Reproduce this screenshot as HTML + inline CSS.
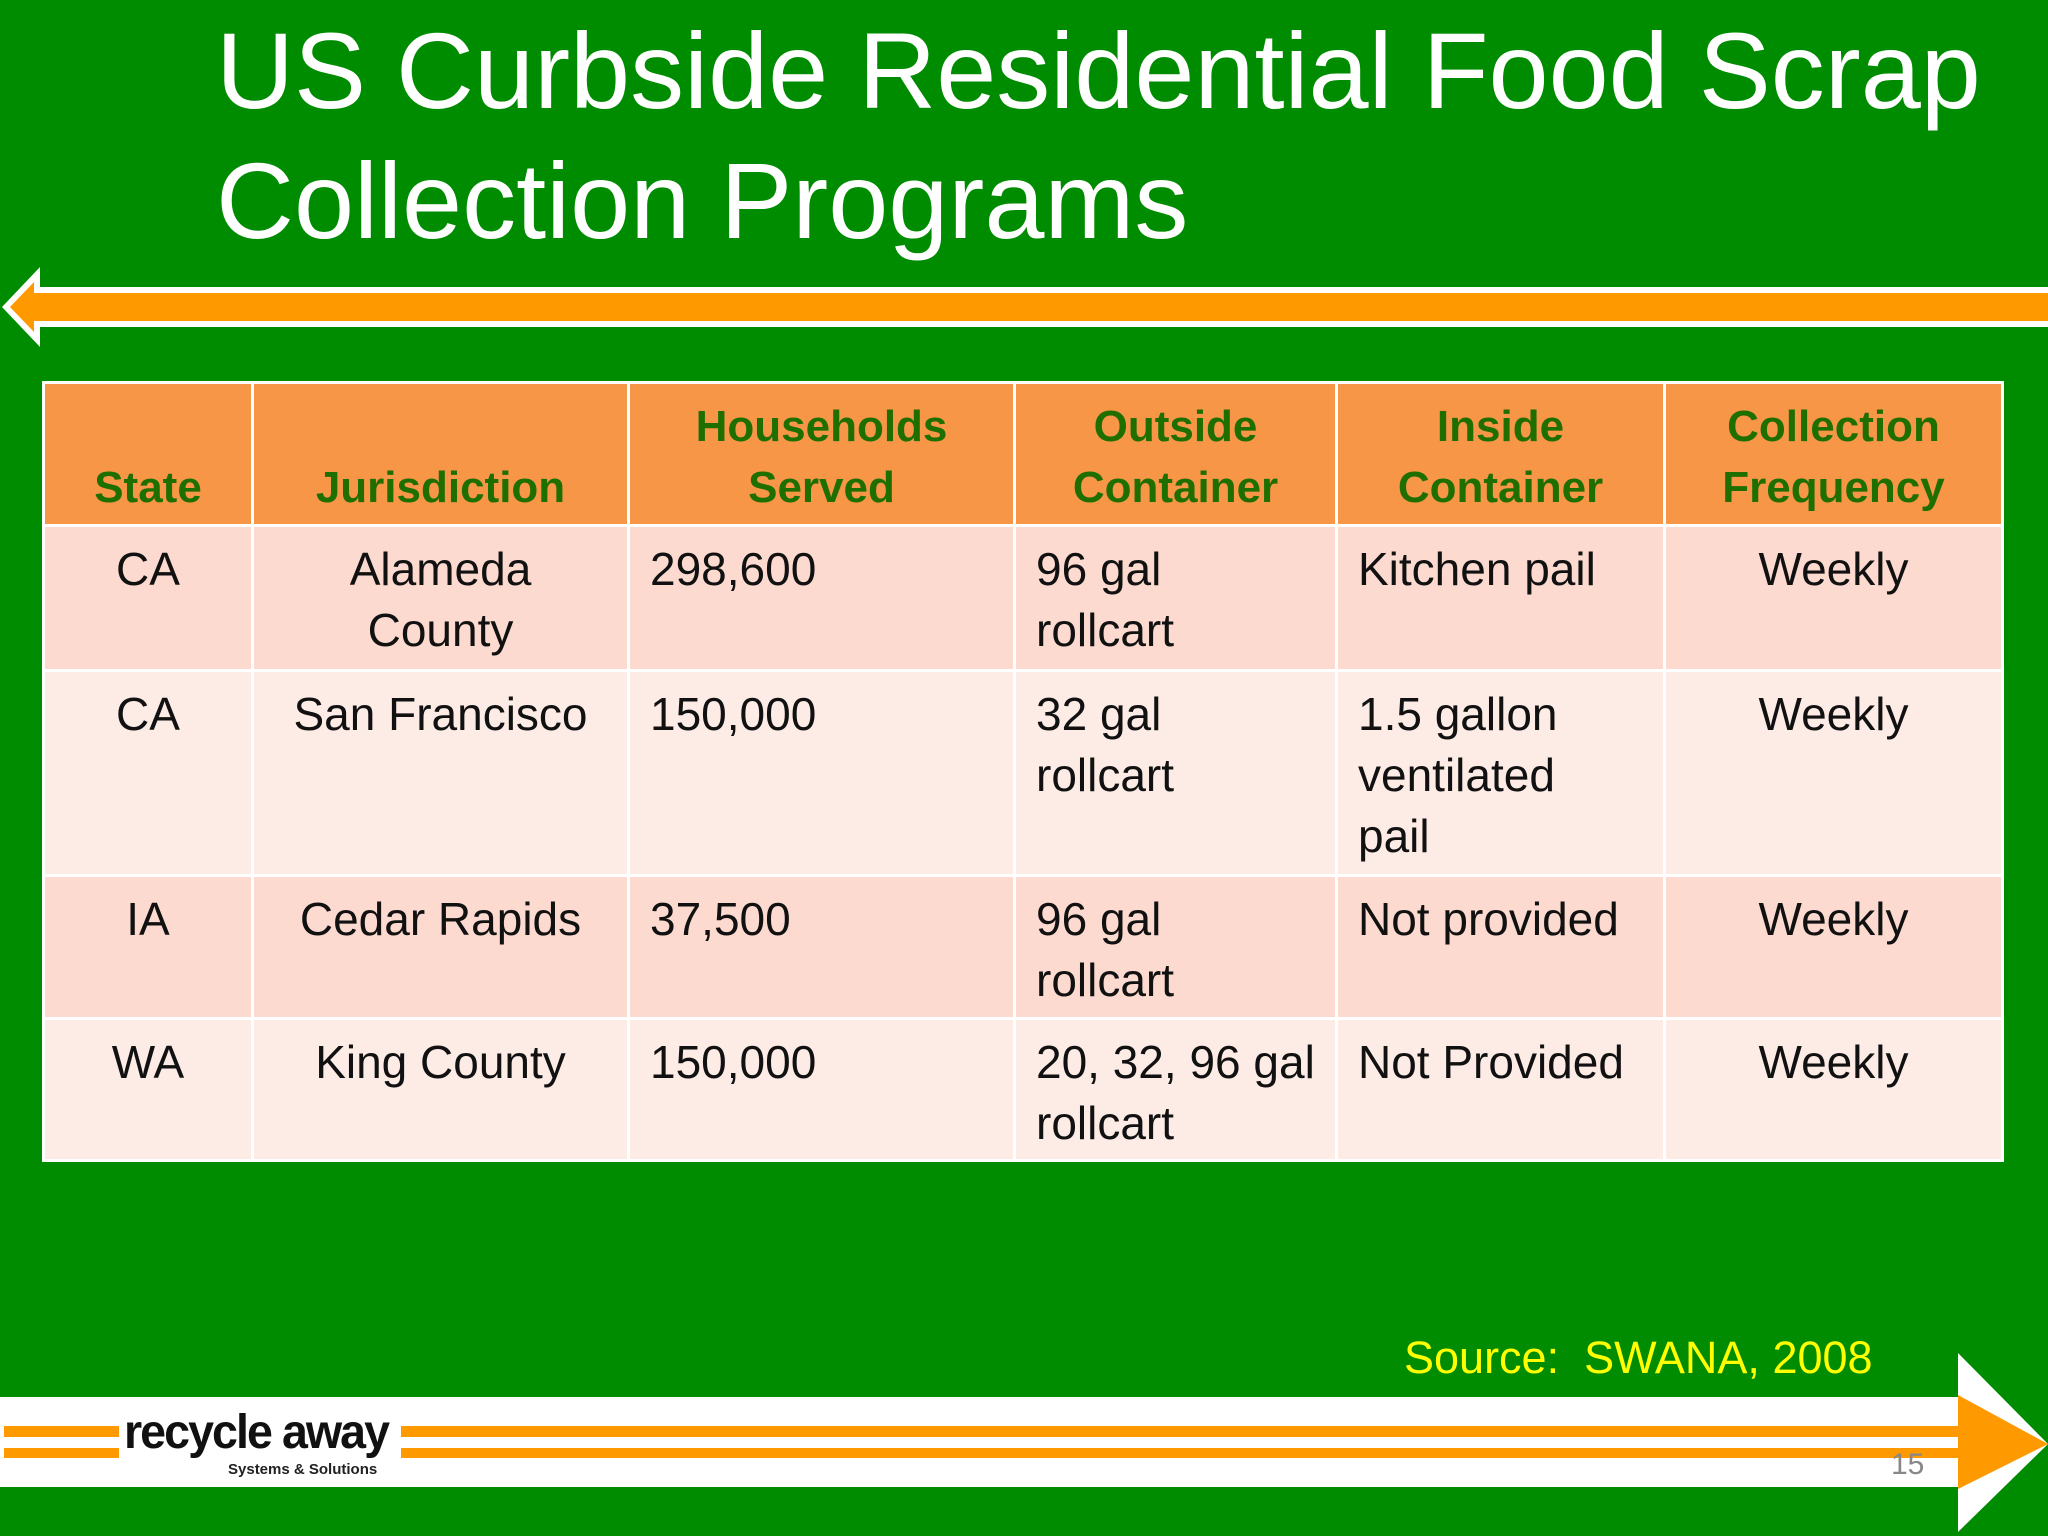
<!DOCTYPE html>
<html><head><meta charset="utf-8"><style>
body{margin:0;width:2048px;height:1536px;background:#008c00;position:relative;overflow:hidden;font-family:"Liberation Sans",sans-serif}
.t{position:absolute;left:216px;color:#fff;font-size:108px;line-height:130px;white-space:nowrap}
table{position:absolute;left:42px;top:381px;border-collapse:collapse;table-layout:fixed}
td{border:3px solid #fff;font-size:46px;line-height:61px;vertical-align:top;padding:12px 20px 0 20px;color:#111;box-sizing:border-box;white-space:nowrap}
tr.h td{background:#f79646;color:#1f6e00;font-weight:bold;vertical-align:bottom;text-align:center;padding-bottom:6px;font-size:44px}
tr.o td{background:#fcdad0}
tr.e td{background:#fdebe6}
.c{text-align:center}
</style></head><body>
<div class="t" style="top:6px">US Curbside Residential Food Scrap</div>
<div class="t" style="top:136px">Collection Programs</div>
<svg width="2048" height="1536" style="position:absolute;left:0;top:0">
<polygon points="2,307 40,267 40,287 2048,287 2048,327 40,327 40,347" fill="#fff"/>
<polygon points="10,307 34,282 34,293 2048,293 2048,321 34,321 34,332" fill="#ff9900"/>
<rect x="0" y="1397" width="1958" height="90" fill="#fff"/>
<rect x="4" y="1426" width="115" height="11" fill="#ff9900"/>
<rect x="4" y="1448" width="115" height="10" fill="#ff9900"/>
<rect x="401" y="1426" width="1557" height="11" fill="#ff9900"/>
<rect x="401" y="1448" width="1557" height="10" fill="#ff9900"/>
<polygon points="1958,1353 2048,1444 1958,1532" fill="#fff"/>
<polygon points="1958,1395 2048,1444 1958,1489" fill="#ff9900"/>
</svg>
<div style="position:absolute;left:124px;top:1405px;font-size:48px;font-weight:bold;letter-spacing:-2px;color:#111;transform:scaleX(0.97);transform-origin:left">recycle away</div>
<div style="position:absolute;left:228px;top:1461px;font-size:15px;font-weight:bold;color:#222">Systems &amp; Solutions</div>
<div style="position:absolute;left:1891px;top:1448px;font-size:30px;color:#888">15</div>
<div style="position:absolute;left:1404px;top:1332px;font-size:45px;color:#ffff00">Source:&nbsp; SWANA, 2008</div>
<table>
<colgroup><col style="width:209px"><col style="width:376px"><col style="width:386px"><col style="width:322px"><col style="width:328px"><col style="width:338px"></colgroup>
<tr class="h" style="height:138px"><td>State</td><td>Jurisdiction</td><td>Households<br>Served</td><td>Outside<br>Container</td><td>Inside<br>Container</td><td>Collection<br>Frequency</td></tr>
<tr class="o" style="height:145px"><td class="c">CA</td><td class="c">Alameda<br>County</td><td>298,600</td><td>96 gal<br>rollcart</td><td>Kitchen pail</td><td class="c">Weekly</td></tr>
<tr class="e" style="height:205px"><td class="c">CA</td><td class="c">San Francisco</td><td>150,000</td><td>32 gal<br>rollcart</td><td>1.5 gallon<br>ventilated<br>pail</td><td class="c">Weekly</td></tr>
<tr class="o" style="height:143px"><td class="c">IA</td><td class="c">Cedar Rapids</td><td>37,500</td><td>96 gal<br>rollcart</td><td>Not provided</td><td class="c">Weekly</td></tr>
<tr class="e" style="height:142px"><td class="c">WA</td><td class="c">King County</td><td>150,000</td><td>20, 32, 96 gal<br>rollcart</td><td>Not Provided</td><td class="c">Weekly</td></tr>
</table>
</body></html>
